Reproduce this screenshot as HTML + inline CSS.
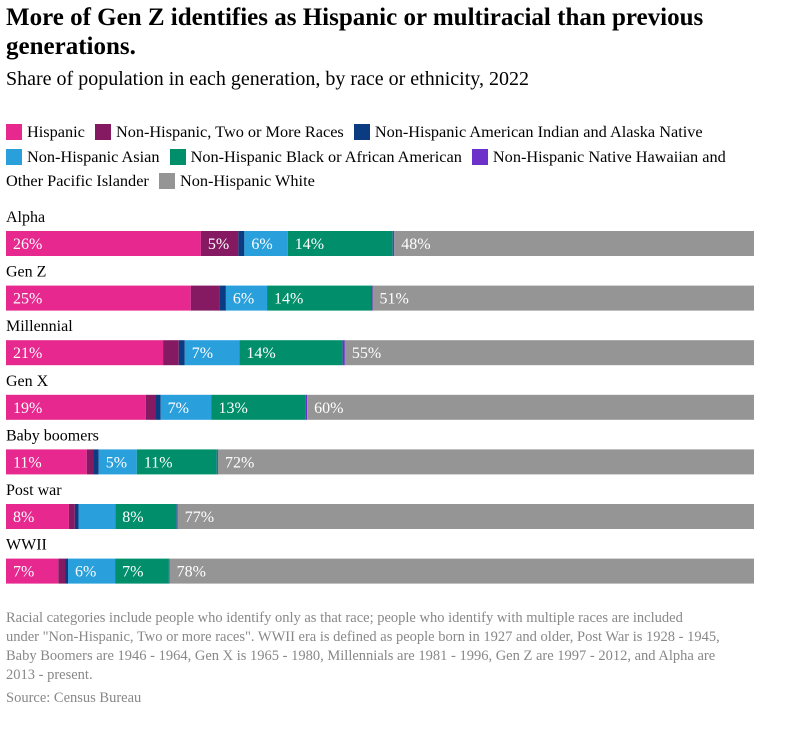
<!DOCTYPE html>
<html><head><meta charset="utf-8"><style>
body{margin:0;width:798px;height:740px;background:#fff;font-family:"Liberation Serif",serif;position:relative;overflow:hidden}
h1{position:absolute;left:6px;top:3px;margin:0;font-size:25px;line-height:29px;font-weight:bold;width:740px}
.sub{position:absolute;left:6px;top:68px;font-size:20px}
.legend{position:absolute;left:6px;top:120px;width:745px;font-size:16.3px;line-height:24.5px}
.li{display:inline-block;margin-right:6px;white-space:nowrap}
.sw{display:inline-block;width:16px;height:16px;vertical-align:-3px;margin-right:5px}
.note{position:absolute;left:6px;top:609px;width:780px;font-size:14.5px;line-height:19px;color:#888;white-space:nowrap}
.src{position:absolute;left:6px;top:690px;font-size:14.5px;color:#888}
</style></head><body>
<h1>More of Gen Z identifies as Hispanic or multiracial than previous generations.</h1>
<div class="sub">Share of population in each generation, by race or ethnicity, 2022</div>
<div class="legend" id="legend"></div>
<svg id="chart" width="798" height="740" style="position:absolute;left:0;top:0"></svg>
<div class="note">Racial categories include people who identify only as that race; people who identify with multiple races are included<br>under "Non-Hispanic, Two or more races". WWII era is defined as people born in 1927 and older, Post War is 1928 - 1945,<br>Baby Boomers are 1946 - 1964, Gen X is 1965 - 1980, Millennials are 1981 - 1996, Gen Z are 1997 - 2012, and Alpha are<br>2013 - present.</div>
<div class="src">Source: Census Bureau</div>
<script>
const categories=["Alpha","Gen Z","Millennial","Gen X","Baby boomers","Post war","WWII"];
const seriesNames=["Hispanic","Non-Hispanic, Two or More Races","Non-Hispanic American Indian and Alaska Native","Non-Hispanic Asian","Non-Hispanic Black or African American","Non-Hispanic Native Hawaiian and Other Pacific Islander","Non-Hispanic White"];
const colors=["#e6288f","#851a63","#0b3b80","#299fdc","#008f6a","#6d31c9","#959595"];
const hispanic=[26,24.7,21,18.7,10.8,8.4,7];
const twoOrMore=[5,3.9,2.1,1.3,0.9,0.8,0.9];
const amInd=[0.8,0.8,0.8,0.7,0.7,0.5,0.4];
const asian=[5.8,5.5,7.3,6.8,5.1,4.9,6.3];
const black=[14,13.9,13.8,12.6,10.7,8.2,7.2];
const nhpi=[0.2,0.2,0.3,0.2,0.15,0.15,0.1];
const white=[48,51,54.7,59.8,71.7,77,78.2];
const series=[hispanic,twoOrMore,amInd,asian,black,nhpi,white];
const NS="http://www.w3.org/2000/svg";
const svg=document.getElementById('chart');
const x0=6,x1=754;
const rowY=i=>231+i*54.6;
const lg=document.getElementById('legend');
seriesNames.forEach((n,k)=>{
 const s=document.createElement('span');s.className='li';
 
 
 s.innerHTML='<span class="sw" style="background:'+colors[k]+'"></span>'+n;
 if(k===5){s.style.whiteSpace='normal';s.style.display='inline';}
 lg.appendChild(s);
 lg.appendChild(document.createTextNode(' '));
});
categories.forEach((c,i)=>{
 const y=rowY(i);
 const t=document.createElementNS(NS,'text');
 t.setAttribute('x',6);t.setAttribute('y',y-9);t.setAttribute('font-size','16');t.textContent=c;
 
 
 svg.appendChild(t);
 let tot=0;series.forEach(a=>tot+=a[i]);
 let cx=x0;
 series.forEach((a,k)=>{
  const w=a[i]/tot*(x1-x0);
  const r=document.createElementNS(NS,'rect');
  r.setAttribute('x',cx);r.setAttribute('y',y);r.setAttribute('width',w);r.setAttribute('height',25);
  r.setAttribute('fill',colors[k]);
  
  
  svg.appendChild(r);
  if(a[i]>=5){
   const l=document.createElementNS(NS,'text');
   l.setAttribute('x',cx+7);l.setAttribute('y',y+18);l.setAttribute('fill','#fff');l.setAttribute('font-size','16');
   l.textContent=Math.round(a[i])+'%';
   
   
   svg.appendChild(l);
  }
  cx+=w;
 });
});
</script>
</body></html>
